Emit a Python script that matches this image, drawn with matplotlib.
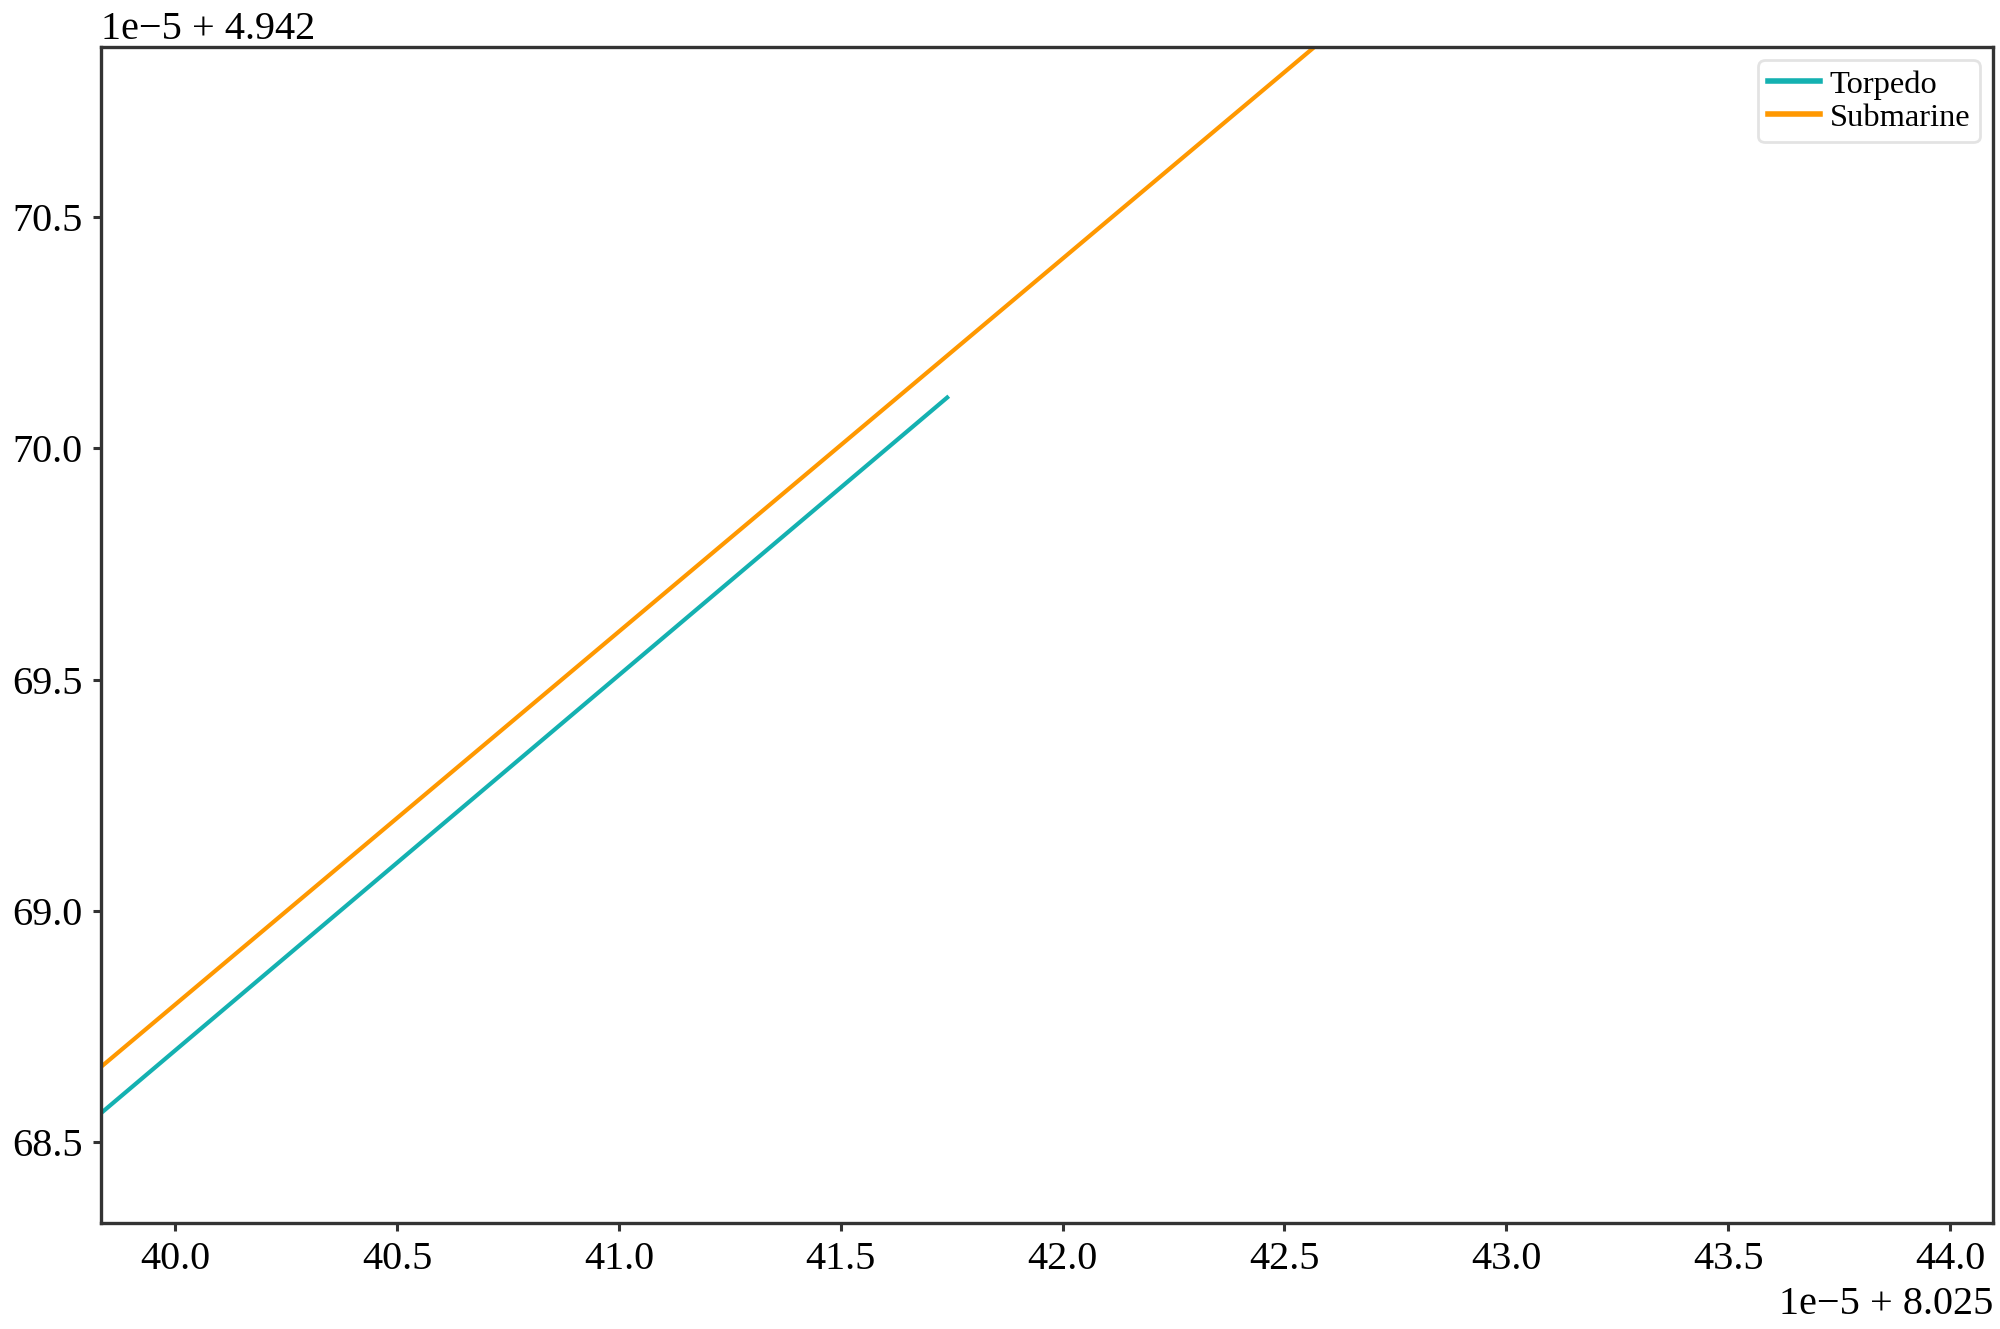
import numpy as np
import matplotlib.pyplot as plt
from matplotlib.ticker import ScalarFormatter

plt.rcParams['font.family'] = ['Liberation Serif', 'DejaVu Serif']

# trajectories (longitude, latitude)
torpedo_x = np.array([8.0253983, 8.0254174])
torpedo_y = np.array([4.9426856, 4.9427011])
sub_x = np.array([8.0253983, 8.0254257])
sub_y = np.array([4.9426866, 4.9427087])

x_lim = (8.02539833, 8.02544097)
y_lim = (4.94268325, 4.94270868)


class SpacedFormatter(ScalarFormatter):
    # offset label with spaces round the plus sign
    def get_offset(self):
        return super().get_offset().replace('+', ' + ')


fig = plt.figure(figsize=(10, 6.645), dpi=200)
ax = fig.add_axes([0.0505, 0.0798, 0.946, 0.8848])

ax.plot(torpedo_x, torpedo_y, color='#14b1b1', linewidth=1.5, label='Torpedo')
ax.plot(sub_x, sub_y, color='#ff9800', linewidth=1.5, label='Submarine')

ax.set_xlim(*x_lim)
ax.set_ylim(*y_lim)

ax.xaxis.set_major_formatter(SpacedFormatter(useOffset=8.025))
ax.yaxis.set_major_formatter(SpacedFormatter(useOffset=4.942))
ax.set_xticks(8.025 + np.arange(40.0, 44.01, 0.5) * 1e-5)
ax.set_yticks(4.942 + np.arange(68.5, 70.51, 0.5) * 1e-5)

ax.tick_params(labelsize=14.5, color='#333333', length=3, width=1.1)
ax.xaxis.get_offset_text().set_fontsize(14.5)
ax.yaxis.get_offset_text().set_fontsize(14.5)
for s in ax.spines.values():
    s.set_color('#333333')
    s.set_linewidth(1.2)

leg = ax.legend(loc='upper right', fontsize=11.7, handlelength=1.6,
                handletextpad=0.3, borderpad=0.3, labelspacing=0.1,
                borderaxespad=0.4)
leg.get_frame().set_edgecolor('#dddddd')
for h in leg.get_lines():
    h.set_linewidth(2)

fig.savefig('out.png', dpi=200)
